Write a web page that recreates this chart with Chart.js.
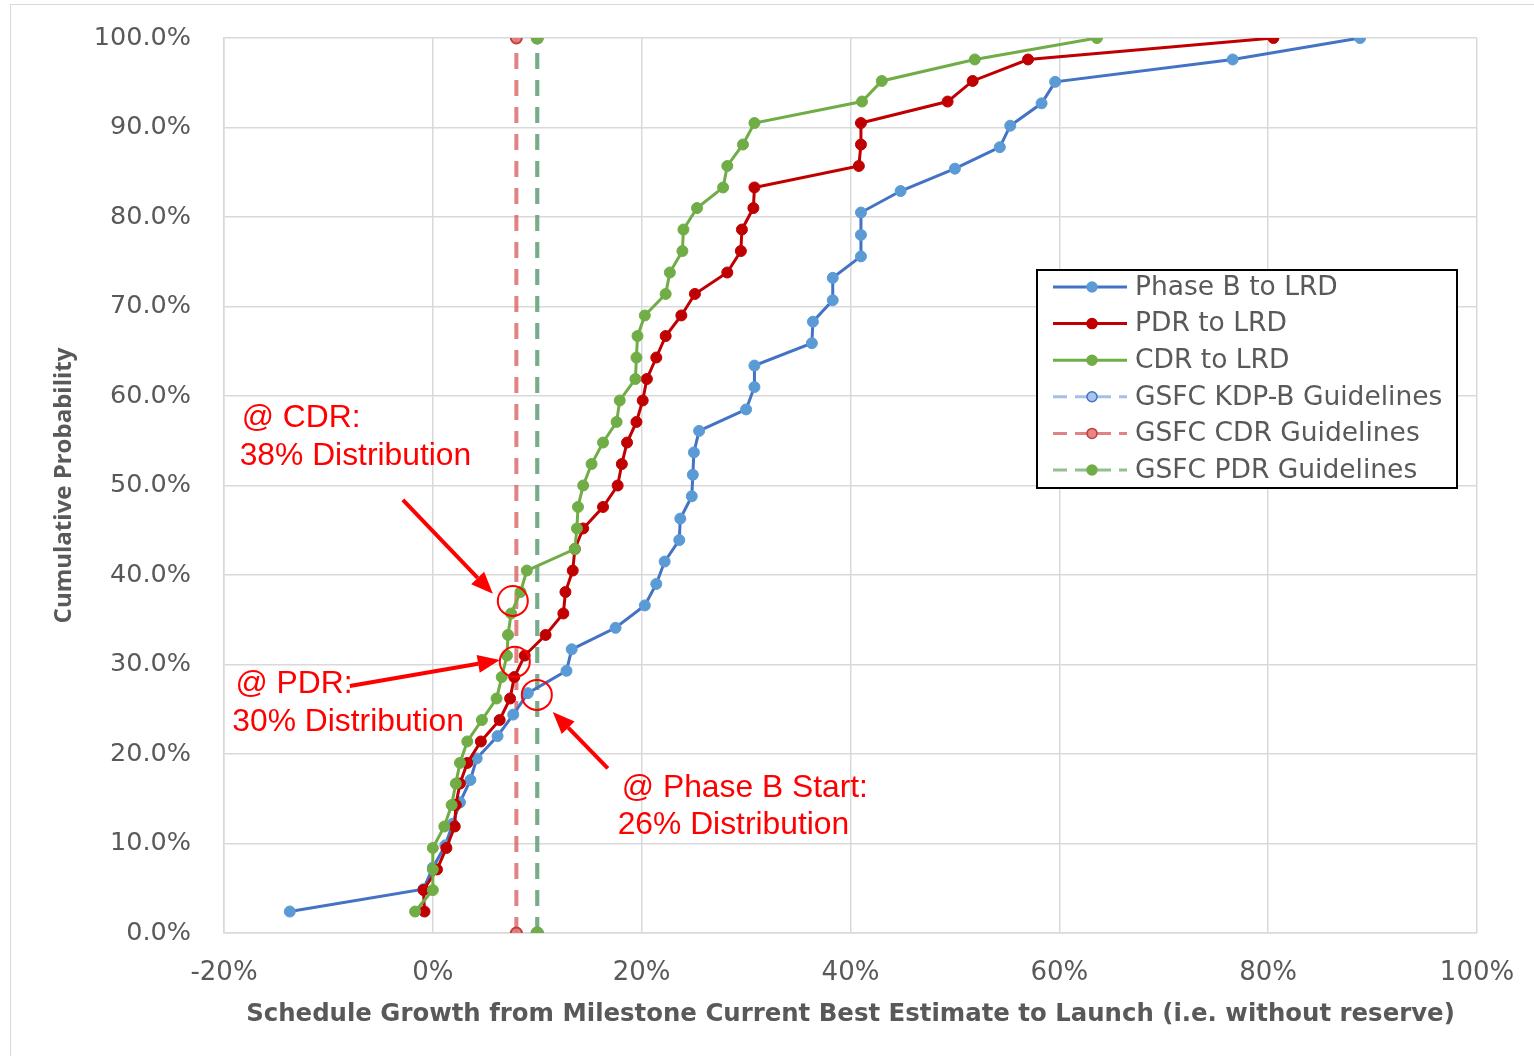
<!DOCTYPE html>
<html>
<head>
<meta charset="utf-8">
<title>Schedule Growth Cumulative Probability</title>
<script src="https://cdn.jsdelivr.net/npm/chart.js@4.4.0/dist/chart.umd.min.js"></script>
<style>
  html, body { margin: 0; padding: 0; background: #fff; }
  #wrap { position: relative; width: 1534px; height: 1056px; overflow: hidden; }
  #frame { position: absolute; left: 10px; top: 4px; width: 1600px; height: 1100px; border: 1px solid #d9d9d9; }
  #chart { position: absolute; left: 0; top: 0; }
</style>
</head>
<body>
<div id="wrap">
  <div id="frame"></div>
  <canvas id="chart" width="1534" height="1056"></canvas>
</div>
<script>
// ── Data (x = schedule growth %, y = cumulative probability %) ──

const PHASE_B_X = [-13.7, -0.9, 0.0, 1.2, 1.9, 2.6, 3.6, 4.2, 6.2, 7.7, 9.1, 12.8, 13.3, 17.5, 20.3, 21.4,
  22.2, 23.6, 23.7, 24.8, 24.9, 25.0, 25.5, 30.0, 30.8, 30.8, 36.3, 36.4, 38.3, 38.3, 41.0, 41.0, 41.0,
  44.8, 50.0, 54.3, 55.3, 58.3, 59.6, 76.6, 88.8];
const PHASE_B_Y = [2.4, 4.9, 7.3, 9.8, 12.2, 14.6, 17.1, 19.5, 22.0, 24.4, 26.8, 29.3, 31.7, 34.1, 36.6, 39.0,
  41.5, 43.9, 46.3, 48.8, 51.2, 53.7, 56.1, 58.5, 61.0, 63.4, 65.9, 68.3, 70.7, 73.2, 75.6, 78.0, 80.5,
  82.9, 85.4, 87.8, 90.2, 92.7, 95.1, 97.6, 100.0];

const PDR_X = [-0.8, -0.9, 0.4, 1.3, 2.1, 2.2, 2.6, 3.3, 4.6, 6.4, 7.4, 7.8, 8.8, 10.8, 12.5, 12.7, 13.4,
  13.6, 14.4, 16.3, 17.7, 18.1, 18.6, 19.5, 20.1, 20.5, 21.4, 22.3, 23.8, 25.1, 28.2, 29.5, 29.6, 30.7,
  30.8, 40.8, 41.0, 41.0, 49.3, 51.7, 57.0, 80.5];
const PDR_Y = [2.4, 4.8, 7.1, 9.5, 11.9, 14.3, 16.7, 19.0, 21.4, 23.8, 26.2, 28.6, 31.0, 33.3, 35.7, 38.1,
  40.5, 42.9, 45.2, 47.6, 50.0, 52.4, 54.8, 57.1, 59.5, 61.9, 64.3, 66.7, 69.0, 71.4, 73.8, 76.2, 78.6,
  81.0, 83.3, 85.7, 88.1, 90.5, 92.9, 95.2, 97.6, 100.0];

const CDR_X = [-1.7, 0.0, 0.0, 0.0, 1.1, 1.8, 2.2, 2.6, 3.3, 4.7, 6.1, 6.6, 7.1, 7.2, 7.5, 8.4, 9.0,
  13.6, 13.8, 13.9, 14.4, 15.2, 16.3, 17.6, 17.9, 19.4, 19.5, 19.6, 20.3, 22.3, 22.7, 23.9, 24.0, 25.3,
  27.8, 28.2, 29.7, 30.8, 41.1, 43.0, 51.9, 63.6];
const CDR_Y = [2.4, 4.8, 7.1, 9.5, 11.9, 14.3, 16.7, 19.0, 21.4, 23.8, 26.2, 28.6, 31.0, 33.3, 35.7, 38.1,
  40.5, 42.9, 45.2, 47.6, 50.0, 52.4, 54.8, 57.1, 59.5, 61.9, 64.3, 66.7, 69.0, 71.4, 73.8, 76.2, 78.6,
  81.0, 83.3, 85.7, 88.1, 90.5, 92.9, 95.2, 97.6, 100.0];

// guideline verticals
const GUIDE_Y      = [0, 100];
const KDPB_GUIDE_X = [10, 10];
const CDR_GUIDE_X  = [8, 8];
const PDR_GUIDE_X  = [10, 10];

const X_TICKS = [-20, 0, 20, 40, 60, 80, 100];
const Y_TICKS = [0, 10, 20, 30, 40, 50, 60, 70, 80, 90, 100];

// ── Helpers ─────────────────────────────────────────────

const FONT  = "'DejaVu Sans', Verdana, sans-serif";
const ARIAL = "'Liberation Sans', Arial, sans-serif";
const GREY  = '#595959';
const RED   = '#ff0000';

const pts = (xs, ys) => xs.map((x, i) => ({ x, y: ys[i] }));

function series(label, xs, ys, line, fill, order) {
  return {
    label, order,
    data: pts(xs, ys),
    showLine: true,
    borderColor: line,
    backgroundColor: fill,
    borderWidth: 3,
    pointRadius: 5.5,
    pointBackgroundColor: fill,
    pointBorderColor: fill,
    pointBorderWidth: 1,
  };
}

function guide(label, xs, line, ptFill, ptLine, order) {
  return {
    label, order,
    data: pts(xs, GUIDE_Y),
    showLine: true,
    borderColor: line,
    backgroundColor: ptFill,
    borderWidth: 4,
    borderDash: [16, 11],
    pointRadius: 5.5,
    pointBackgroundColor: ptFill,
    pointBorderColor: ptLine,
    pointBorderWidth: 2,
  };
}

// ── Annotations (positions in axis units) ───────────────

const NOTE_TEXT = [
  { t: '@ CDR:',             x: -18.3, y: 57.5 },
  { t: '38% Distribution',   x: -18.5, y: 53.3 },
  { t: '@ PDR:',             x: -18.9, y: 27.8 },
  { t: '30% Distribution',   x: -19.2, y: 23.6 },
  { t: '@ Phase B Start:',   x: 18.1,  y: 16.2 },
  { t: '26% Distribution',   x: 17.7,  y: 12.0 },
];
const NOTE_CIRCLES = [
  { x: 7.66, y: 37.1 },
  { x: 7.85, y: 30.3 },
  { x: 9.96, y: 26.6 },
];
const NOTE_ARROWS = [
  { x0: -2.87, y0: 48.4, x1: 5.75,  y1: 37.9 },
  { x0: -7.95, y0: 27.6, x1: 6.42,  y1: 30.5 },
  { x0: 16.76, y0: 18.4, x1: 11.49, y1: 24.7 },
];

function arrow(ctx, ax, ay, bx, by) {
  const ang = Math.atan2(by - ay, bx - ax);
  const head = 22, half = 9;
  const hx = bx - Math.cos(ang) * head, hy = by - Math.sin(ang) * head;
  ctx.beginPath();
  ctx.moveTo(ax, ay);
  ctx.lineTo(hx, hy);
  ctx.stroke();
  ctx.beginPath();
  ctx.moveTo(bx, by);
  ctx.lineTo(hx + Math.sin(ang) * half, hy - Math.cos(ang) * half);
  ctx.lineTo(hx - Math.sin(ang) * half, hy + Math.cos(ang) * half);
  ctx.closePath();
  ctx.fill();
}

const notesPlugin = {
  id: 'notes',
  afterDatasetsDraw(chart) {
    const { ctx, scales: { x, y } } = chart;
    ctx.save();
    ctx.fillStyle = RED;
    ctx.strokeStyle = RED;
    ctx.font = `31.8px ${ARIAL}`;
    ctx.textAlign = 'left';
    ctx.textBaseline = 'middle';
    NOTE_TEXT.forEach(n => ctx.fillText(n.t, x.getPixelForValue(n.x), y.getPixelForValue(n.y)));

    ctx.lineWidth = 2;
    NOTE_CIRCLES.forEach(c => {
      ctx.beginPath();
      ctx.arc(x.getPixelForValue(c.x), y.getPixelForValue(c.y), 15, 0, Math.PI * 2);
      ctx.stroke();
    });

    ctx.lineWidth = 4;
    NOTE_ARROWS.forEach(a => arrow(ctx,
      x.getPixelForValue(a.x0), y.getPixelForValue(a.y0),
      x.getPixelForValue(a.x1), y.getPixelForValue(a.y1)));
    ctx.restore();
  },
};

// Legend box drawn inside the plot area
const legendPlugin = {
  id: 'boxLegend',
  afterDraw(chart) {
    const { ctx, chartArea: ca } = chart;
    const bx = ca.left + 813, by = ca.top + 232, bw = 420, bh = 218;
    ctx.save();
    ctx.fillStyle = '#fff';
    ctx.fillRect(bx, by, bw, bh);
    ctx.strokeStyle = '#000';
    ctx.lineWidth = 2;
    ctx.strokeRect(bx, by, bw, bh);

    ctx.font = `26.5px ${FONT}`;
    ctx.textBaseline = 'middle';
    ctx.textAlign = 'left';
    chart.data.datasets.forEach((ds, i) => {
      const cy = by + 17 + i * 36.6;
      ctx.strokeStyle = ds.borderColor;
      ctx.lineWidth = 3;
      ctx.setLineDash(ds.borderDash ? [14, 8] : []);
      ctx.beginPath();
      ctx.moveTo(bx + 16, cy);
      ctx.lineTo(bx + 90, cy);
      ctx.stroke();
      ctx.setLineDash([]);
      ctx.beginPath();
      ctx.arc(bx + 55, cy, 5, 0, Math.PI * 2);
      ctx.fillStyle = ds.pointBackgroundColor;
      ctx.fill();
      ctx.strokeStyle = ds.pointBorderColor;
      ctx.lineWidth = 1.5;
      ctx.stroke();
      ctx.fillStyle = GREY;
      ctx.fillText(ds.label, bx + 98, cy + 1);
    });
    ctx.restore();
  },
};

// ── Chart ────────────────────────────────────────────────

new Chart(document.getElementById('chart'), {
  type: 'scatter',
  data: {
    datasets: [
      series('Phase B to LRD', PHASE_B_X, PHASE_B_Y, '#4472c4', '#5b9bd5', 2),
      series('PDR to LRD',     PDR_X,     PDR_Y,     '#c00000', '#c00000', 1),
      series('CDR to LRD',     CDR_X,     CDR_Y,     '#70ad47', '#70ad47', 0),
      guide('GSFC KDP-B Guidelines', KDPB_GUIDE_X, 'rgba(91,140,210,0.55)', 'rgba(160,190,235,0.9)', '#4472c4', 5),
      guide('GSFC CDR Guidelines',   CDR_GUIDE_X,  'rgba(216,90,90,0.75)',  'rgba(230,120,120,0.9)', '#c04040', 4),
      guide('GSFC PDR Guidelines',   PDR_GUIDE_X,  'rgba(100,165,95,0.7)',  '#70ad47', '#70ad47', 3),
    ],
  },
  options: {
    responsive: false,
    animation: false,
    devicePixelRatio: 1,
    layout: { padding: { left: 0, right: 57, top: 38, bottom: 0 } },
    plugins: {
      legend: { display: false },
      tooltip: { enabled: false },
    },
    scales: {
      x: {
        type: 'linear',
        min: -20, max: 100,
        afterBuildTicks: s => { s.ticks = X_TICKS.map(v => ({ value: v })); },
        afterFit: s => { s.height = 123; s.paddingLeft = 0; s.paddingRight = 0; },
        ticks: {
          callback: v => `${v}%`,
          font: { family: FONT, size: 26 },
          color: GREY,
          padding: 25,
        },
        grid: { color: '#d9d9d9', lineWidth: 1.5, drawTicks: false },
        border: { color: '#d9d9d9', width: 1.5 },
        title: {
          display: true,
          text: 'Schedule Growth from Milestone Current Best Estimate to Launch (i.e. without reserve)',
          font: { family: FONT, size: 24.4, weight: 'bold' },
          color: GREY,
          padding: { top: 0, bottom: 27 },
        },
      },
      y: {
        type: 'linear',
        min: 0, max: 100,
        afterBuildTicks: s => { s.ticks = Y_TICKS.map(v => ({ value: v })); },
        afterFit: s => { s.width = 224; s.paddingTop = 0; s.paddingBottom = 0; },
        ticks: {
          callback: v => `${v.toFixed(1)}%`,
          font: { family: FONT, size: 25.5 },
          color: GREY,
          padding: 33,
        },
        grid: { color: '#d9d9d9', lineWidth: 1.5, drawTicks: false },
        border: { color: '#d9d9d9', width: 1.5 },
        title: {
          display: true,
          text: 'Cumulative Probability',
          font: { family: "'Open Sans', sans-serif", size: 24, weight: 'bold' },
          color: GREY,
          padding: { top: 50, bottom: 0 },
        },
      },
    },
  },
  plugins: [notesPlugin, legendPlugin],
});
</script>
</body>
</html>
